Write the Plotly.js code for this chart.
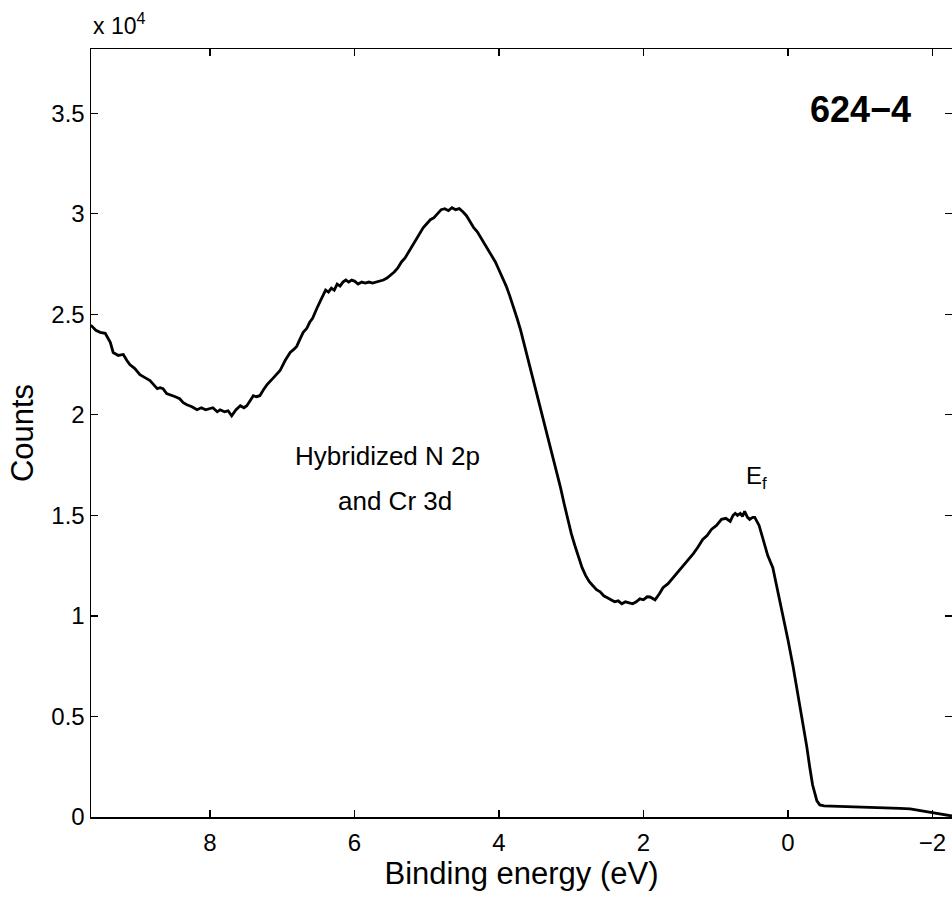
<!DOCTYPE html>
<html>
<head>
<meta charset="utf-8">
<script src="https://cdn.plot.ly/plotly-3.0.1.min.js"></script>
<style>html,body{margin:0;padding:0;background:#fff;}#chart{width:952px;height:897px;}</style>
</head>
<body>
<div id="chart"></div>
<script>
// Binding energy (eV)
var energy = [9.65,9.58,9.52,9.45,9.38,9.34,9.27,9.20,9.15,9.11,9.04,8.97,8.90,8.83,8.78,8.73,8.69,8.65,8.60,8.55,8.48,8.42,8.37,8.32,8.25,8.18,8.12,8.06,8.01,7.96,7.90,7.86,7.80,7.75,7.70,7.64,7.58,7.53,7.49,7.44,7.40,7.36,7.31,7.26,7.21,7.12,7.03,6.96,6.89,6.84,6.80,6.75,6.71,6.66,6.62,6.58,6.55,6.52,6.48,
6.44,6.40,6.36,6.32,6.28,6.24,6.20,6.16,6.12,6.08,6.04,6.00,5.95,5.90,5.85,5.80,5.75,5.70,5.65,5.60,5.55,5.50,5.45,5.40,5.35,5.30,5.25,5.20,5.15,5.10,5.05,5.00,4.95,4.90,4.85,4.80,4.75,4.70,4.65,4.60,4.55,4.50,4.45,4.40,4.35,4.30,4.25,4.20,4.15,4.10,4.05,4.00,3.95,3.90,3.85,3.80,3.75,3.70,3.65,3.60,3.55,3.50,3.45,3.40,3.35,3.30,3.25,3.20,3.15,3.10,3.05,3.00,2.95,2.90,2.85,2.80,2.75,2.70,2.65,2.60,2.55,2.50,2.45,2.40,2.35,2.30,2.25,2.20,2.15,2.10,2.05,2.00,1.95,1.91,1.84,1.78,1.73,1.66,1.59,1.53,1.47,1.40,1.31,1.25,1.18,1.12,1.06,0.99,0.92,0.86,0.80,0.76,0.73,0.70,0.66,0.63,0.60,0.56,0.53,0.49,0.46,0.40,0.35,0.28,0.21,0.14,0.07,0.00,-0.07,-0.14,-0.21,-0.26,-0.30,-0.34,-0.37,-0.40,-0.44,-0.50,-0.60,-0.70,-0.80,-0.90,-1.00,-1.10,-1.20,-1.32,-1.45,-1.55,-1.69,-1.80,-1.90,-2.00,-2.10,-2.20,-2.27];
// Counts
var counts = [24460,24200,24100,24050,23600,23100,22950,23000,22700,22500,22300,22000,21850,21700,21500,21300,21350,21300,21050,21000,20900,20800,20600,20500,20400,20250,20350,20250,20300,20350,20150,20250,20150,20200,19950,20250,20450,20350,20450,20700,20950,20900,20950,21250,21500,21850,22200,22700,23100,23250,23400,23800,24100,24300,24600,24800,25100,25300,25600,
25900,26200,26100,26300,26200,26500,26400,26600,26700,26600,26700,26650,26500,26600,26550,26600,26550,26600,26650,26700,26800,26950,27100,27300,27600,27800,28100,28400,28700,29000,29300,29500,29700,29800,30000,30200,30250,30150,30300,30200,30250,30100,29900,29600,29300,29100,28800,28500,28200,27900,27600,27200,26800,26400,25900,25400,24800,24200,23500,22800,22100,21400,20700,20000,19300,18600,17900,17200,16400,15600,14800,14100,13500,12900,12400,12000,11700,11500,11300,11200,11000,10900,10800,10700,10750,10600,10700,10650,10600,10700,10850,10800,10950,10940,10800,11100,11400,11600,11900,12200,12400,12700,13100,13400,13800,14000,14300,14500,14800,14850,14700,15000,15100,15000,15100,14950,15200,14900,14800,14900,14900,14500,13900,13000,12400,11200,10100,8800,7500,6100,4700,3500,2500,1600,1200,800,600,550,540,530,520,500,510,480,470,450,460,430,400,330,270,200,130,80,50];

var xTickVals = [8,6,4,2,0,-2];
var xTickText = ["8","6","4","2","0","\u22122"];
var yTickVals = [0,5000,10000,15000,20000,25000,30000,35000];
var yTickText = ["0","0.5","1","1.5","2","2.5","3","3.5"];

var font = "Liberation Sans, Arial, Helvetica, sans-serif";

var trace = {
  x: energy, y: counts, type: "scatter", mode: "lines",
  line: {color: "#000", width: 2.8}, hoverinfo: "skip"
};

var layout = {
  width: 952, height: 897,
  margin: {l: 91, r: 0, t: 49, b: 80},
  paper_bgcolor: "#fff", plot_bgcolor: "#fff",
  showlegend: false,
  font: {family: font, color: "#000", size: 24},
  xaxis: {
    range: [9.647, -2.27], tickvals: xTickVals, ticktext: xTickText,
    ticks: "inside", ticklen: 7, tickwidth: 1.3, tickcolor: "#000",
    showline: true, linecolor: "#000", linewidth: 1.5, mirror: "ticks",
    showgrid: false, zeroline: false,
    tickfont: {family: font, size: 24, color: "#000"},
    ticklabelstandoff: 4,
    title: {text: "Binding energy (eV)", font: {family: font, size: 31, color: "#000"}, standoff: 2}
  },
  yaxis: {
    range: [0, 38190], tickvals: yTickVals, ticktext: yTickText,
    ticks: "inside", ticklen: 7, tickwidth: 1.3, tickcolor: "#000",
    showline: true, linecolor: "#000", linewidth: 1.5, mirror: "ticks",
    showgrid: false, zeroline: false,
    tickfont: {family: font, size: 24, color: "#000"},
    title: {text: "Counts", font: {family: font, size: 31, color: "#000"}, standoff: 8}
  },
  annotations: [
    {x: 5.54, y: 17950, xref: "x", yref: "y", text: "Hybridized N 2p", showarrow: false,
     font: {family: font, size: 26, color: "#000"}},
    {x: 5.44, y: 15710, xref: "x", yref: "y", text: "and Cr 3d", showarrow: false,
     font: {family: font, size: 26, color: "#000"}},
    {x: 0.44, y: 16900, xref: "x", yref: "y", text: "E<sub>f</sub>", showarrow: false,
     font: {family: font, size: 24, color: "#000"}},
    {x: -1.01, y: 35160, xref: "x", yref: "y", text: "<b>624\u22124</b>", showarrow: false,
     font: {family: font, size: 36, color: "#000"}},
    {x: 0, y: 1, xref: "paper", yref: "paper", xanchor: "left", yanchor: "bottom", yshift: 8,
     text: "x 10<sup>4</sup>", showarrow: false, font: {family: font, size: 23, color: "#000"}}
  ]
};

Plotly.newPlot("chart", [trace], layout, {staticPlot: true, displayModeBar: false});
</script>
</body>
</html>
